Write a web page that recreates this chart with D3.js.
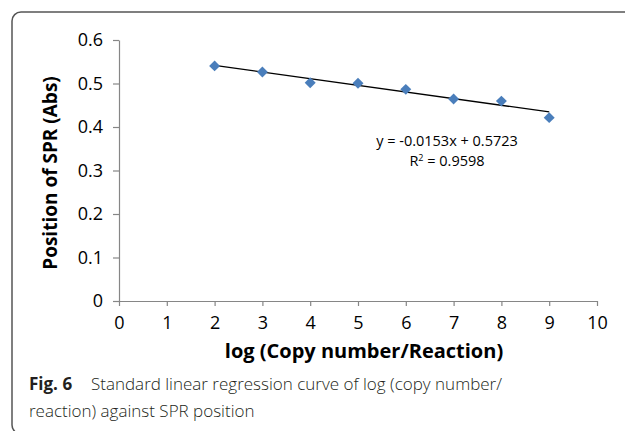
<!DOCTYPE html>
<html><head><meta charset="utf-8">
<script src="https://cdn.jsdelivr.net/npm/d3@7"></script>
<style>
html,body{margin:0;padding:0;background:#fff;}
svg{display:block;}
</style></head>
<body>
<script>
// Data
const xValues = [2, 3, 4, 5, 6, 7, 8, 9];
const yValues = [0.5405, 0.5265, 0.5015, 0.5005, 0.4865, 0.4645, 0.4595, 0.4215];
const slope = -0.0153;
const intercept = 0.5723;
const xTicks = [0,1,2,3,4,5,6,7,8,9,10];
const yTicks = [0,0.1,0.2,0.3,0.4,0.5,0.6];
const yTickLabels = ["0","0.1","0.2","0.3","0.4","0.5","0.6"];
const equationText = "y = -0.0153x + 0.5723";
const r2Value = "0.9598";
const xTitle = "log (Copy number/Reaction)";
const yTitle = "Position of SPR (Abs)";
const captionBold = "Fig. 6";
const captionLine1 = "Standard linear regression curve of log (copy number/";
const captionLine2 = "reaction) against SPR position";

const W = 625, H = 431;
const svg = d3.select("body").append("svg").attr("width", W).attr("height", H);

// frame
svg.append("rect").attr("x", 12).attr("y", 12).attr("width", 700).attr("height", 422)
  .attr("rx", 9).attr("fill", "none").attr("stroke", "#555").attr("stroke-width", 1.5);

const x = d3.scaleLinear().domain([0, 10]).range([119, 597]);
const y = d3.scaleLinear().domain([0, 0.6]).range([301, 40]);
const font = "'Open Sans', sans-serif";
const axisColor = "#868686";

const gx = svg.append("g").attr("transform", `translate(0,${y(0)})`)
  .call(d3.axisBottom(x).tickValues(xTicks).tickFormat(d3.format("d")).tickSize(5).tickSizeOuter(0).tickPadding(10));
const gy = svg.append("g").attr("transform", `translate(${x(0)},0)`)
  .call(d3.axisLeft(y).tickValues(yTicks).tickFormat((d, i) => yTickLabels[i]).tickSize(6).tickSizeOuter(0).tickPadding(10));
[gx, gy].forEach(g => {
  g.select(".domain").attr("stroke", axisColor).attr("stroke-width", 1.2);
  g.selectAll(".tick line").attr("stroke", axisColor).attr("stroke-width", 1.2);
  g.selectAll(".tick text").attr("fill", "#000").style("font-family", font).style("font-size", "18px");
});

// trend line
svg.append("line")
  .attr("x1", x(xValues[0])).attr("y1", y(slope * xValues[0] + intercept))
  .attr("x2", x(xValues[xValues.length - 1])).attr("y2", y(slope * xValues[xValues.length - 1] + intercept))
  .attr("stroke", "#000").attr("stroke-width", 1.3);

// points
const diamond = d3.symbol().type(d3.symbolSquare).size(60);
svg.append("g").selectAll("path").data(xValues).join("path")
  .attr("d", diamond)
  .attr("transform", (d, i) => `translate(${x(d)},${y(yValues[i])}) rotate(45)`)
  .attr("fill", "#4a7ebb");

// equation
svg.append("text").attr("x", 447).attr("y", 146).attr("text-anchor", "middle")
  .style("font-family", font).style("font-size", "14.5px").attr("fill", "#000").text(equationText);
const r2 = svg.append("text").attr("x", 447).attr("y", 165.5).attr("text-anchor", "middle")
  .style("font-family", font).style("font-size", "14.5px").attr("fill", "#000");
r2.append("tspan").text("R");
r2.append("tspan").attr("dy", -5).style("font-size", "9px").text("2");
r2.append("tspan").attr("dy", 5).text(" = " + r2Value);

// axis titles
svg.append("text").attr("x", 364).attr("y", 358).attr("text-anchor", "middle")
  .style("font-family", font).style("font-size", "20px").style("font-weight", "bold").attr("fill", "#000").text(xTitle);
svg.append("text").attr("transform", "translate(57,173) rotate(-90)").attr("text-anchor", "middle")
  .style("font-family", font).style("font-size", "19px").style("font-weight", "bold").attr("fill", "#000").text(yTitle);

// caption
svg.append("text").attr("x", 29).attr("y", 390)
  .style("font-family", font).style("font-size", "17px").style("font-weight", "bold").attr("fill", "#231f20").text(captionBold);
svg.append("text").attr("x", 91).attr("y", 390)
  .style("font-family", font).style("font-size", "17px").style("font-weight", "300").attr("fill", "#231f20").text(captionLine1);
svg.append("text").attr("x", 29).attr("y", 417)
  .style("font-family", font).style("font-size", "17px").style("font-weight", "300").attr("fill", "#231f20").text(captionLine2);
</script>
</body></html>
